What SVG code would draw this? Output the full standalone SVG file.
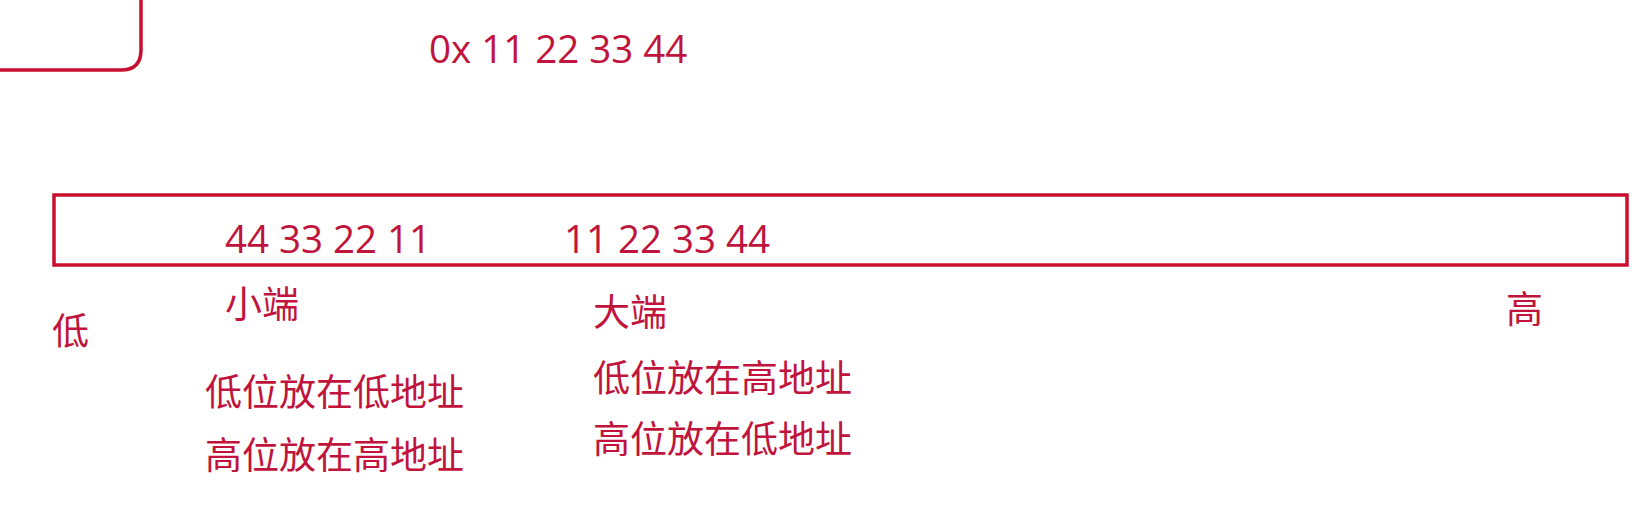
<svg xmlns="http://www.w3.org/2000/svg" width="1641" height="505" viewBox="0 0 1641 505">
<style>
.box{fill:none;stroke:#c8102e;stroke-width:3.5}
.num{font-family:"Open Sans","Liberation Sans","Noto Sans CJK SC",sans-serif;font-size:38.5px;fill:#c0143c}
.cn{font-family:"Noto Sans CJK SC","Noto Sans",sans-serif;font-size:37px;fill:#c0143c}
</style>
<rect width="1641" height="505" fill="#ffffff"/>
<g id="corner-box"><path class="box" d="M-10,70 H121 Q141,70 141,50 V-5"/></g>
<g id="value"><text class="num" x="429" y="63">0x 11 22 33 44</text></g>
<g id="memory"><rect class="box" x="54" y="195" width="1573" height="70"/></g>
<g id="little-bytes"><text class="num" x="225" y="253">44 33 22 11</text></g>
<g id="big-bytes"><text class="num" x="564" y="253">11 22 33 44</text></g>
<g id="low"><text class="cn" x="52" y="345">低</text></g>
<g id="high"><text class="cn" x="1506" y="323">高</text></g>
<g id="little"><text class="cn" x="225" y="318">小端</text>
<text class="cn" x="205" y="406">低位放在低地址</text>
<text class="cn" x="205" y="469">高位放在高地址</text></g>
<g id="big"><text class="cn" x="593" y="326">大端</text>
<text class="cn" x="593" y="392">低位放在高地址</text>
<text class="cn" x="593" y="453">高位放在低地址</text></g>
</svg>
